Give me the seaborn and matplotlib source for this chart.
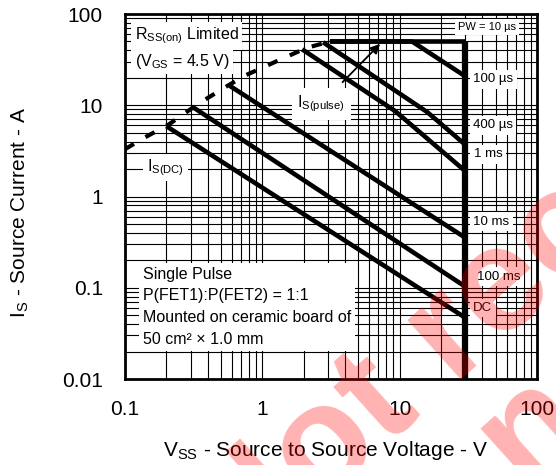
import matplotlib
matplotlib.use("Agg")
import matplotlib.pyplot as plt
import seaborn as sns
import pandas as pd
from matplotlib.ticker import LogLocator, NullFormatter

# ---------------- data ----------------
dc_v = [0.2, 30];            dc_i = [5.9, 0.047]
ms100_v = [0.31, 30];        ms100_i = [9.6, 0.103]
ms10_v = [0.58, 30];         ms10_i = [16.3, 0.354]
ms1_v = [1.95, 9.3, 30];     ms1_i = [41, 8.6, 1.9]
us400_v = [2.77, 15.9, 30];  us400_i = [49, 8.4, 3.7]
us100_v = [3.1, 12.3, 30];   us100_i = [50, 50, 20.8]
us10_v = [3.1, 30];          us10_i = [50, 50]
vmax_v = [30, 30];           vmax_i = [50, 0.01]
rds_v = [0.1, 0.14, 0.209, 0.346, 0.553, 0.76, 1.28, 2.08, 3.1]
rds_i = [3.3, 4.45, 6.18, 10.5, 16.2, 21.4, 30.5, 42.3, 50]

x_ticks = [0.1, 1, 10, 100]
x_tick_labels = ["0.1", "1", "10", "100"]
y_ticks = [0.01, 0.1, 1, 10, 100]
y_tick_labels = ["0.01", "0.1", "1", "10", "100"]

sns.set_theme(style="white")
plt.rcParams["font.family"] = ["Liberation Sans", "DejaVu Sans"]
plt.rcParams["mathtext.fontset"] = "custom"
plt.rcParams["mathtext.rm"] = "Liberation Sans"

fig = plt.figure(figsize=(5.56, 4.65), dpi=100)
ax = fig.add_axes([125 / 556, 1 - 379 / 465, 412 / 556, 365 / 465])
ax.set_xscale("log")
ax.set_yscale("log")
ax.set_xlim(0.1, 100)
ax.set_ylim(0.01, 100)

# grid
ax.xaxis.set_minor_locator(LogLocator(base=10, subs=range(2, 10)))
ax.yaxis.set_minor_locator(LogLocator(base=10, subs=range(2, 10)))
ax.xaxis.set_minor_formatter(NullFormatter())
ax.yaxis.set_minor_formatter(NullFormatter())
ax.grid(which="both", color="black", lw=0.8)
ax.set_axisbelow(True)
for s in ax.spines.values():
    s.set_color("black")
    s.set_linewidth(2)

ax.set_xticks(x_ticks, x_tick_labels)
ax.set_yticks(y_ticks, y_tick_labels)
ax.tick_params(which="both", length=0, labelsize=15, colors="black")
ax.tick_params(axis="x", pad=15)
ax.tick_params(axis="y", pad=16)

# curves
solid = [(dc_v, dc_i), (ms100_v, ms100_i), (ms10_v, ms10_i), (ms1_v, ms1_i),
         (us400_v, us400_i), (us100_v, us100_i), (us10_v, us10_i)]
for v, i in solid:
    sns.lineplot(x=v, y=i, sort=False, estimator=None, color="black", lw=3.3,
                 ax=ax, zorder=5, solid_capstyle="butt")
sns.lineplot(x=vmax_v, y=vmax_i, sort=False, estimator=None, color="black", lw=4.5,
             ax=ax, zorder=5, solid_capstyle="butt")
sns.lineplot(x=rds_v, y=rds_i, sort=False, estimator=None, color="black", lw=3.0,
             ax=ax, zorder=5, dashes=False, linestyle=(0, (2.5, 3.2)))

bb = dict(facecolor="white", edgecolor="none", pad=2.5)
txt = dict(color="black", zorder=4, bbox=bb)

ax.text(0.118, 57.3, r"R$_{\mathregular{SS(on)}}$ Limited", fontsize=11.5, va="center", **txt)
ax.text(0.118, 30.5, r"(V$_{\mathregular{GS}}$ = 4.5 V)", fontsize=11.5, va="center", **txt)
ax.text(0.1446, 2.08, r"I$_{\mathregular{S(DC)}}$", fontsize=11.5, va="center", **txt)
ax.annotate(r"I$_{\mathregular{S(pulse)}}$", xy=(7.2, 47), xytext=(2.68, 10.3),
            fontsize=11.5, ha="center", va="center", color="black", zorder=4,
            bbox=dict(facecolor="white", edgecolor="none", pad=4),
            arrowprops=dict(arrowstyle="-|>", color="black", lw=1.3,
                            mutation_scale=14, shrinkA=6, shrinkB=0))

ax.text(26.6, 72, "PW = 10 µs", fontsize=8, va="center", **txt)
ax.text(34.2, 19.3, "100 µs", fontsize=9.5, va="center", **txt)
ax.text(34.2, 6.03, "400 µs", fontsize=9.5, va="center", **txt)
ax.text(34.6, 2.9, "1 ms", fontsize=9.5, va="center", **txt)
ax.text(34.2, 0.53, "10 ms", fontsize=9.5, va="center", **txt)
ax.text(36.6, 0.132, "100 ms", fontsize=9.5, va="center", **txt)
ax.text(34.2, 0.060, "DC", fontsize=9.5, va="center", **txt)

ax.text(0.135, 0.062,
        "Single Pulse\nP(FET1):P(FET2) = 1:1\nMounted on ceramic board of\n50 cm² × 1.0 mm",
        fontsize=11.5, va="center", ha="left", linespacing=1.55, color="black",
        zorder=4, bbox=dict(facecolor="white", edgecolor="none", pad=3))

ax.set_xlabel(r"V$_{\mathregular{SS}}$ - Source to Source Voltage - V", fontsize=15, color="black")
ax.set_ylabel(r"I$_{\mathregular{S}}$ - Source Current - A", fontsize=15, color="black")
ax.xaxis.set_label_coords(0.487, -0.165)
ax.yaxis.set_label_coords(-0.228, 0.455)

# watermark
wm = dict(rotation=42, rotation_mode="anchor", ha="left", va="baseline",
          fontsize=108, fontweight="bold", color="red", alpha=0.3, zorder=10)
fig.text(237 / 556, 1 - 581 / 465, "Not recommended", **wm)
fig.text(348 / 556, 1 - 656 / 465, "for new design", **wm)

fig.savefig("out.png", dpi=100)
